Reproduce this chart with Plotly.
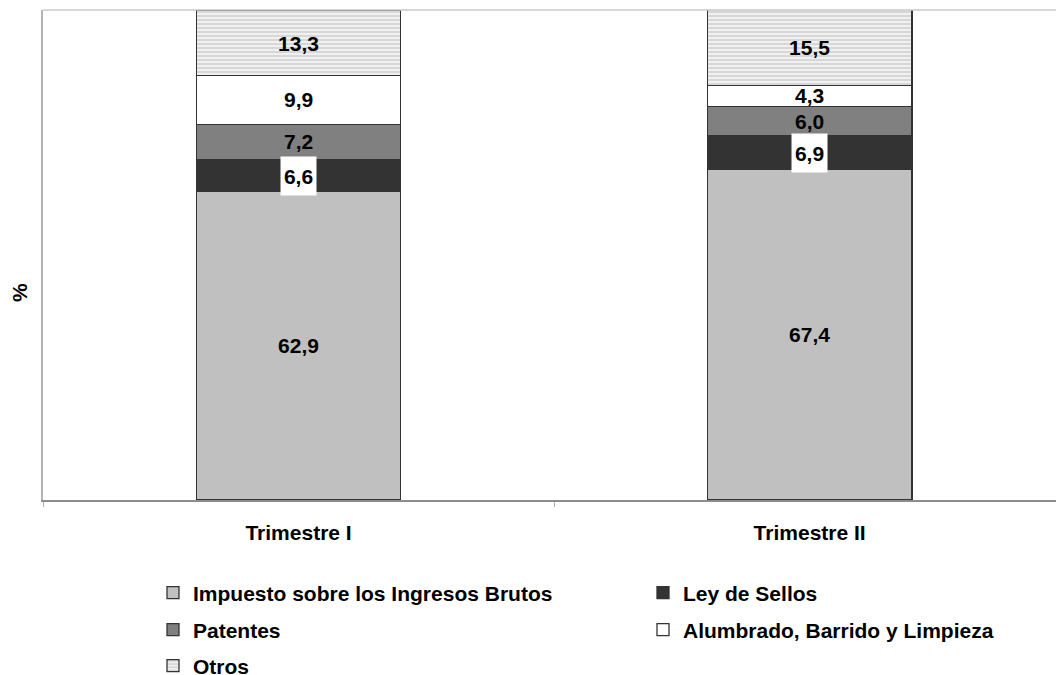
import plotly.graph_objects as go

categories = ["Trimestre I", "Trimestre II"]
impuesto = [62.9, 67.4]
ley_sellos = [6.6, 6.9]
patentes = [7.2, 6.0]
alumbrado = [9.9, 4.3]
otros = [13.3, 15.5]

series_names = ["Impuesto sobre los Ingresos Brutos", "Ley de Sellos", "Patentes",
                "Alumbrado, Barrido y Limpieza", "Otros"]

FONT = "Liberation Sans"
FS = 21


def fmt(vals):
    return [f"{v:.1f}".replace(".", ",") for v in vals]


fig = go.Figure()
line = dict(color="#333333", width=1.3)
common = dict(x=categories, width=0.4, textposition="inside", insidetextanchor="middle",
              textangle=0, textfont=dict(family=FONT, size=FS, color="black", weight="bold"))

fig.add_trace(go.Bar(name=series_names[0], y=impuesto, text=fmt(impuesto),
                     marker=dict(color="#c0c0c0", line=line), legend="legend", **common))
fig.add_trace(go.Bar(name=series_names[1], y=ley_sellos,
                     marker=dict(color="#333333", line=line), legend="legend2",
                     x=categories, width=0.4))
fig.add_trace(go.Bar(name=series_names[2], y=patentes, text=fmt(patentes),
                     marker=dict(color="#808080", line=line), legend="legend3", **common))
fig.add_trace(go.Bar(name=series_names[3], y=alumbrado, text=fmt(alumbrado),
                     marker=dict(color="#ffffff", line=line), legend="legend4", **common))
fig.add_trace(go.Bar(name=series_names[4], y=otros, text=fmt(otros),
                     marker=dict(color="#f2f2f2", line=line,
                                 pattern=dict(shape="-", fgcolor="#b8b8b8", bgcolor="#f0f0f0",
                                              size=4, solidity=0.45)),
                     legend="legend5", **common))

# white-boxed labels for Ley de Sellos
for c, base, v in zip(categories, impuesto, ley_sellos):
    fig.add_annotation(x=c, y=base + v / 2, xref="x", yref="y", text=fmt([v])[0],
                       showarrow=False, bgcolor="white", borderpad=0, width=35, height=38,
                       font=dict(family=FONT, size=FS, color="black", weight="bold"))

PLOT_L, PLOT_W, PLOT_B, PLOT_H = 43, 1013, 500, 490


def px_x(p):
    return (p - PLOT_L) / PLOT_W


def px_y(p):
    return (PLOT_B - p) / PLOT_H


# y-axis label
fig.add_annotation(x=px_x(19), y=px_y(293), xref="paper", yref="paper", text="%",
                   textangle=-90, showarrow=False, xanchor="center", yanchor="middle",
                   font=dict(family=FONT, size=FS, color="black", weight="bold"))

# top border of plot area
fig.add_shape(type="line", xref="paper", yref="paper", x0=0, x1=1, y0=1, y1=1,
              line=dict(color="#c8c8c8", width=1.5))

legend_common = dict(orientation="h", xanchor="left", yanchor="middle",
                     font=dict(family=FONT, size=FS, color="black", weight="bold"),
                     traceorder="normal", bgcolor="rgba(0,0,0,0)")

col1, col2 = 153, 643
row1, row2, row3 = 593, 630, 666

fig.update_layout(
    width=1056, height=675,
    margin=dict(l=43, r=0, t=10, b=175, autoexpand=False),
    paper_bgcolor="white", plot_bgcolor="white",
    barmode="stack",
    showlegend=True,
    legend=dict(x=px_x(col1), y=px_y(row1), **legend_common),
    legend2=dict(x=px_x(col2), y=px_y(row1), **legend_common),
    legend3=dict(x=px_x(col1), y=px_y(row2), **legend_common),
    legend4=dict(x=px_x(col2), y=px_y(row2), **legend_common),
    legend5=dict(x=px_x(col1), y=px_y(row3), **legend_common),
    xaxis=dict(range=[-0.5, 1.482], showline=True, linecolor="#8c8c8c", linewidth=1.5,
               ticks="outside", tickson="boundaries", ticklen=5, tickcolor="#b0b0b0",
               ticklabelstandoff=13,
               tickfont=dict(family=FONT, size=FS, color="black", weight="bold"),
               showgrid=False, zeroline=False),
    yaxis=dict(range=[0, 100], showline=True, linecolor="#b4b4b4", linewidth=1.5,
               showticklabels=False, ticks="", showgrid=False, zeroline=False),
    uniformtext=dict(minsize=FS, mode="show"),
)

fig.write_html("out.html", config={"displayModeBar": False},
               post_script="document.body.style.margin='0';document.body.style.overflow='hidden';")
